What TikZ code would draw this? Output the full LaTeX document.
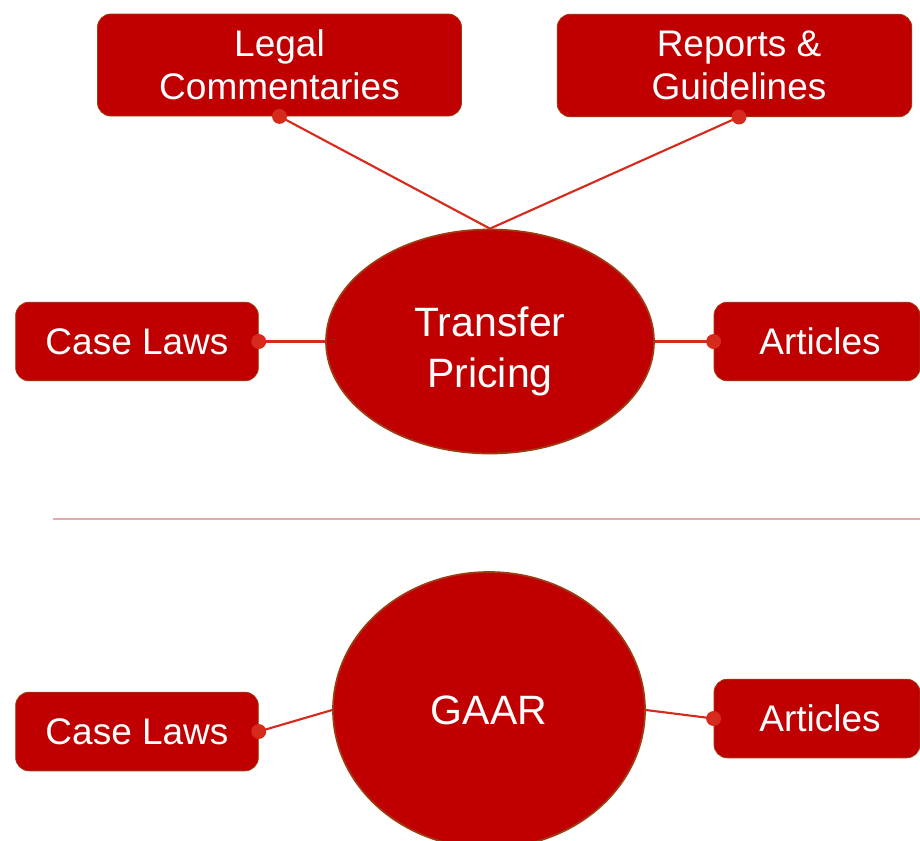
\documentclass[tikz,border=0pt]{standalone}
\usepackage{fontspec}
\setmainfont{Liberation Sans}
\usetikzlibrary{shapes.geometric}
\definecolor{boxred}{HTML}{C00000}
\definecolor{edgebrown}{HTML}{9E3B10}
\definecolor{linkred}{HTML}{D62B1C}
\definecolor{seppink}{HTML}{E9A9AC}
\begin{document}
\begin{tikzpicture}[x=0.75pt,y=-0.75pt,
  topicbox/.style={rectangle, rounded corners=10pt, fill=boxred, draw=edgebrown, line width=0.6pt,
    text=white, align=center, inner sep=0pt,
    font=\fontsize{27.75pt}{32.25pt}\selectfont},
  centreoval/.style={ellipse, fill=boxred, draw=edgebrown, line width=1.3pt,
    text=white, align=center, inner sep=0pt,
    font=\fontsize{30.75pt}{38.25pt}\selectfont},
  linkline/.style={draw=linkred, line width=1.6pt},
  linkdot/.style={fill=linkred}]
\useasboundingbox (0,0) rectangle (920,840);

% separator
\coordinate (sepL) at (53,519);
\coordinate (sepR) at (920,519);
\draw[seppink, line width=1pt] (sepL) -- (sepR);

% top group
\node[topicbox, minimum width=273pt, minimum height=76.5pt] (legal) at (279.5,65) {Legal\\Commentaries};
\node[topicbox, minimum width=266pt, minimum height=77pt] (reports) at (734.5,65.5) {\hspace*{6.75pt}Reports \&\\\hspace*{6.75pt}Guidelines};
\node[topicbox, minimum width=182pt, minimum height=59pt] (caseT) at (137,341.5) {Case Laws};
\node[topicbox, minimum width=154.5pt, minimum height=59pt] (artT) at (817,341.5) {\hspace*{4.5pt}Articles};
\node[centreoval, minimum width=246pt, minimum height=168pt] (tp) at (490,341.5) {\rule{0pt}{37pt}Transfer\\Pricing};

% bottom group
\node[topicbox, minimum width=182pt, minimum height=59pt] (caseB) at (137,731.5) {Case Laws};
\node[topicbox, minimum width=154.5pt, minimum height=59pt] (artB) at (817,718.5) {\hspace*{4.5pt}Articles};
\node[centreoval, minimum width=234pt, minimum height=207pt] (gaar) at (489,710) {GAAR};

\coordinate (rdot) at (739,117);

% connectors
\draw[linkline] (legal.south) -- (tp.north);
\draw[linkline] (rdot) -- (tp.north);
\draw[linkline] (caseT.east) -- (tp.west);
\draw[linkline] (artT.west) -- (tp.east);
\draw[linkline] (caseB.east) -- (gaar.west);
\draw[linkline] (artB.west) -- (gaar.east);

% dots
\fill[linkdot] (legal.south) circle (5.6pt);
\fill[linkdot] (rdot) circle (5.6pt);
\fill[linkdot] (caseT.east) circle (5.6pt);
\fill[linkdot] (artT.west) circle (5.6pt);
\fill[linkdot] (caseB.east) circle (5.6pt);
\fill[linkdot] (artB.west) circle (5.6pt);
\end{tikzpicture}
\end{document}
